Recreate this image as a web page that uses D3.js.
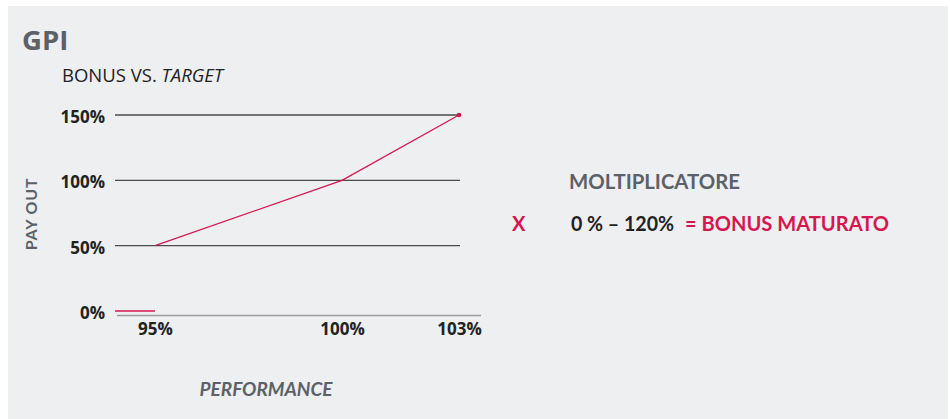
<!DOCTYPE html>
<html><head><meta charset="utf-8">
<script src="https://cdn.jsdelivr.net/npm/d3@7"></script>
<style>html,body{margin:0;padding:0;background:#fff;}</style>
</head><body>
<svg id="c" width="950" height="419"></svg>
<script>
const title = "GPI";
const subtitle = "BONUS VS. ";
const subtitleItalic = "TARGET";
const yTicks = [0, 50, 100, 150];
const xTicks = [95, 100, 103];
const linePerf = [94, 95, 95, 100, 103];
const linePay = [0, 0, 50, 100, 150];
const yLabel = "PAY OUT";
const xLabel = "PERFORMANCE";
const multLabel = "MOLTIPLICATORE";
const multRange = "0 % – 120%";
const resultLabel = "= BONUS MATURATO";

const red = "#d5174f", gray = "#5c6167", dark = "#222";
const svg = d3.select("#c");
svg.append("rect").attr("x", 8).attr("y", 6).attr("width", 940).attr("height", 413).attr("fill", "#eeeff1");

const x = d3.scaleLinear().domain([94, 95, 100, 103]).range([115, 155, 342, 459]);
const y = d3.scaleLinear().domain([0, 150]).range([311, 115]);

svg.append("text").attr("x", 22).attr("y", 50).text(title)
  .attr("font-family", "Open Sans").attr("font-weight", 700).attr("font-size", 27.5).attr("fill", gray);
const st = svg.append("text").attr("x", 62).attr("y", 82)
  .attr("font-family", "Open Sans").attr("font-size", 18.5).attr("fill", dark);
st.append("tspan").text(subtitle);
st.append("tspan").attr("font-style", "italic").text(subtitleItalic);

// gridlines
svg.append("g").selectAll("line").data(yTicks.filter(d => d > 0)).join("line")
  .attr("x1", 115).attr("x2", 460).attr("y1", d => y(d)).attr("y2", d => y(d))
  .attr("stroke", "#4a4a4a").attr("stroke-width", 1.3);

// y tick labels
svg.append("g").selectAll("text").data(yTicks).join("text")
  .attr("x", 105).attr("y", d => y(d) + 8).attr("text-anchor", "end")
  .attr("font-family", "Open Sans").attr("font-weight", 700).attr("font-size", 17).attr("fill", dark)
  .text(d => d + "%");

// x axis line
svg.append("line").attr("x1", 117).attr("x2", 481).attr("y1", 315.5).attr("y2", 315.5)
  .attr("stroke", "#9a9a9a").attr("stroke-width", 1.5);

// x tick labels
svg.append("g").selectAll("text").data(xTicks).join("text")
  .attr("x", d => x(d) + 0.5).attr("y", 335).attr("text-anchor", "middle")
  .attr("font-family", "Open Sans").attr("font-weight", 700).attr("font-size", 17).attr("fill", dark)
  .text(d => d + "%");

// series
const pts = linePerf.map((p, i) => [p, linePay[i]]);
svg.append("path").datum(pts.slice(0, 2))
  .attr("d", d3.line().x(d => x(d[0])).y(d => y(d[1])))
  .attr("fill", "none").attr("stroke", red).attr("stroke-width", 1.3);
svg.append("path").datum(pts.slice(2))
  .attr("d", d3.line().x(d => x(d[0])).y(d => y(d[1])))
  .attr("fill", "none").attr("stroke", red).attr("stroke-width", 1.3);
svg.append("circle").attr("cx", x(linePerf[linePerf.length-1])).attr("cy", y(linePay[linePay.length-1]))
  .attr("r", 2.3).attr("fill", red);

// axis labels
svg.append("text").attr("transform", "translate(37,214) rotate(-90)").attr("text-anchor", "middle")
  .attr("font-family", "Lato").attr("font-weight", 700).attr("font-size", 16).attr("letter-spacing", 0.8)
  .attr("fill", gray).text(yLabel);
svg.append("text").attr("x", 266).attr("y", 396).attr("text-anchor", "middle")
  .attr("font-family", "Lato").attr("font-weight", 700).attr("font-style", "italic").attr("font-size", 19).attr("fill", gray).text(xLabel);

// right text
svg.append("text").attr("x", 569).attr("y", 189).attr("textLength", 171).attr("lengthAdjust", "spacingAndGlyphs")
  .attr("font-family", "Lato").attr("font-weight", 700).attr("font-size", 20).attr("fill", gray).text(multLabel);
svg.append("text").attr("x", 512).attr("y", 231)
  .attr("font-family", "Lato").attr("font-weight", 700).attr("font-size", 20).attr("fill", red).text("X");
svg.append("text").attr("x", 571).attr("y", 231).attr("textLength", 103).attr("lengthAdjust", "spacingAndGlyphs")
  .attr("font-family", "Lato").attr("font-weight", 700).attr("font-size", 20).attr("fill", dark).text(multRange);
svg.append("text").attr("x", 685).attr("y", 231).attr("textLength", 204).attr("lengthAdjust", "spacingAndGlyphs")
  .attr("font-family", "Lato").attr("font-weight", 700).attr("font-size", 20).attr("fill", red).text(resultLabel);
</script>
</body></html>
